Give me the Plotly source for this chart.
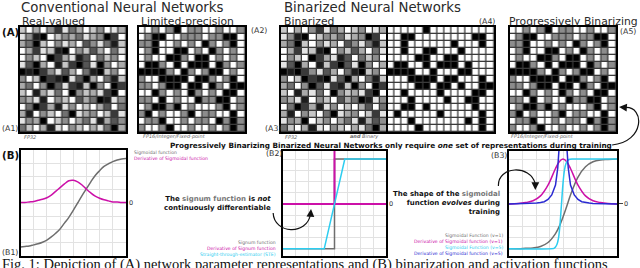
import plotly.graph_objects as go

W, H = 640, 268

# ---------------- data ----------------
# 15x15 parameter grid, shade level 0 (black) .. 9 (white), one string per row
param_rows = [
    "796952846975986",
    "851097564865029",
    "640795869358417",
    "962871095736948",
    "957902681394759",
    "830691720380596",
    "010258369410759",
    "597021083069417",
    "649503821705902",
    "791684905768209",
    "568195793640185",
    "940261859796394",
    "619579408659728",
    "856097596481635",
    "479618957968406",
]
weights = [[int(c) for c in r] for r in param_rows]

# B1 : sigmoidal function and its derivative
b1_x = [-6, -5.5, -5, -4.5, -4, -3.5, -3, -2.5, -2, -1.5, -1, -0.5, 0,
        0.5, 1, 1.5, 2, 2.5, 3, 3.5, 4, 4.5, 5, 5.5, 6]
b1_sigmoid = [-0.83, -0.82, -0.81, -0.79, -0.77, -0.74, -0.70, -0.64, -0.57, -0.49, -0.38, -0.27, -0.14,
              0.0, 0.14, 0.27, 0.40, 0.52, 0.61, 0.69, 0.74, 0.78, 0.81, 0.83, 0.84]
b1_deriv = [0.01, 0.01, 0.02, 0.03, 0.05, 0.07, 0.10, 0.15, 0.22, 0.29, 0.36, 0.42, 0.43,
            0.40, 0.34, 0.26, 0.19, 0.13, 0.09, 0.06, 0.04, 0.02, 0.02, 0.01, 0.01]

# B2 : signum, its derivative, straight-through estimator
b2_sign_x = [-5, 0, 0, 5]
b2_sign_y = [-1, -1, 1, 1]
b2_dsign_x = [-5, 0, 0, 0, 5]
b2_dsign_y = [0, 0, 2, 0, 0]
b2_ste_x = [-5, -1, 1, 5]
b2_ste_y = [-1, -1, 1, 1]

# B3 : sigmoidal functions with v=1 and v=5
b3_x = [-3.6, -3, -2.5, -2, -1.5, -1, -0.5, -0.25, 0, 0.25, 0.5, 1, 1.5, 2, 2.5, 3, 3.6]
b3_sig_v1 = [-1.0, -1.0, -0.99, -0.98, -0.95, -0.86, -0.66, -0.50, -0.29, -0.05, 0.20,
             0.60, 0.83, 0.94, 0.98, 0.99, 1.0]
b3_dsig_v1 = [0.0, 0.01, 0.03, 0.07, 0.18, 0.42, 0.79, 0.94, 1.0, 0.94, 0.79,
              0.42, 0.18, 0.07, 0.03, 0.01, 0.0]
b3_x5 = [-3.6, -0.6, -0.5, -0.4, -0.3, -0.2, -0.1, 0, 0.1, 0.2, 0.3, 0.4, 0.6, 3.6]
b3_sig_v5 = [-1.0, -0.99, -0.96, -0.9, -0.76, -0.46, 0.0, 0.46, 0.76, 0.9, 0.96, 0.99, 1.0, 1.0]
b3_xd5 = [-3.6, -2, -1.75, -1.5, -1.25, -1, -0.75, -0.5, -0.35, -0.25, -0.15, -0.05,
          0.05, 0.15, 0.25, 0.35, 0.5, 0.75, 1, 1.25, 1.5, 1.75, 2, 3.6]
b3_dsig_v5 = [0.0, 0.01, 0.02, 0.03, 0.05, 0.1, 0.2, 0.42, 0.8, 1.3, 2.5, 5,
              5, 2.5, 1.3, 0.8, 0.42, 0.2, 0.1, 0.05, 0.03, 0.02, 0.01, 0.0]

# ---------------- styles ----------------
FONT = "DejaVu Sans"
GRAY = "#6e6e6e"
MAG = "#cc10a8"
CYAN = "#2ccdf0"
BLUE = "#2a2ad2"
GRID = "#e2e2e2"

cs_real = [[0, "#000000"], [1, "#ffffff"]]
cs_quant = [[0, "#000000"], [3.5 / 9, "#000000"], [3.5 / 9, "#8c8c8c"],
            [6.5 / 9, "#8c8c8c"], [6.5 / 9, "#ffffff"], [1, "#ffffff"]]
cs_bin = [[0, "#000000"], [3.5 / 9, "#000000"], [3.5 / 9, "#ffffff"], [1, "#ffffff"]]


def dx(x0, x1):
    return [x0 / W, x1 / W]


def dy(y0, y1):
    return [1 - y1 / H, 1 - y0 / H]


fig = go.Figure()
layout = dict(width=W, height=H, margin=dict(l=0, r=0, t=0, b=0),
              paper_bgcolor="white", plot_bgcolor="rgba(0,0,0,0)",
              showlegend=False, font=dict(family=FONT, color="#222"))
shapes = []
annotations = []

# ---- A grids ----
grids = [(19.5, 126, cs_real), (138.5, 245, cs_quant), (281, 387.5, cs_real),
         (387.5, 494, cs_bin), (509.5, 616, cs_quant)]
for i, (x0, x1, cs) in enumerate(grids, start=1):
    xa, ya = f"x{i}", f"y{i}"
    fig.add_trace(go.Heatmap(z=weights, xaxis=xa, yaxis=ya, colorscale=cs, zmin=0, zmax=9,
                             showscale=False, xgap=1.3, ygap=1.3, hoverinfo="skip"))
    common = dict(showgrid=False, zeroline=False, showticklabels=False, ticks="",
                  showline=True, mirror=True, linecolor="black", linewidth=1.6)
    layout[f"xaxis{i}"] = dict(domain=dx(x0, x1), anchor=ya, range=[-0.5, 14.5], **common)
    layout[f"yaxis{i}"] = dict(domain=dy(27, 132), anchor=xa, range=[14.5, -0.5], **common)
    shapes.append(dict(type="rect", xref=xa, yref=ya, x0=-0.5, x1=14.5, y0=-0.5, y1=14.5,
                       fillcolor="#3a3a3a", line=dict(width=0), layer="below"))

# ---- B line plots ----
def line_axes(i, x0, x1, y0, y1, xr, xdt, yr, zero_tick):
    xa, ya = f"x{i}", f"y{i}"
    layout[f"xaxis{i}"] = dict(domain=dx(x0, x1), anchor=ya, range=xr, tick0=xr[0], dtick=xdt,
                               showgrid=True, gridcolor=GRID, gridwidth=1, zeroline=False,
                               showticklabels=False, ticks="", showline=True, mirror=True,
                               linecolor="black", linewidth=1.6)
    layout[f"yaxis{i}"] = dict(domain=dy(y0, y1), anchor=xa, range=yr, side="right",
                               tickmode="array", tickvals=[0], ticktext=["0"],
                               tickfont=dict(size=6.5, color="#333"),
                               ticks="outside" if zero_tick else "", ticklen=4,
                               tickcolor="#444", showgrid=True, gridcolor=GRID, zeroline=False,
                               minor=dict(tick0=0, dtick=0.25, showgrid=True, gridcolor=GRID,
                                          ticks=""),
                               showline=True, mirror=True, linecolor="black", linewidth=1.6)
    return xa, ya


xa, ya = line_axes(6, 20.5, 126, 150, 256, [-6, 6], 1.5, [-1, 1], False)
fig.add_trace(go.Scatter(x=b1_x, y=b1_sigmoid, xaxis=xa, yaxis=ya, mode="lines",
                         line=dict(color=GRAY, width=1.5, shape="spline"), hoverinfo="skip"))
fig.add_trace(go.Scatter(x=b1_x, y=b1_deriv, xaxis=xa, yaxis=ya, mode="lines",
                         line=dict(color=MAG, width=1.5, shape="spline"), hoverinfo="skip"))

xa, ya = line_axes(7, 283, 386, 151, 256, [-5, 5], 1.25, [-1.16, 1.18], False)
fig.add_trace(go.Scatter(x=b2_sign_x, y=b2_sign_y, xaxis=xa, yaxis=ya, mode="lines",
                         line=dict(color=GRAY, width=1.5), hoverinfo="skip"))
fig.add_trace(go.Scatter(x=b2_dsign_x, y=b2_dsign_y, xaxis=xa, yaxis=ya, mode="lines",
                         line=dict(color=MAG, width=2), hoverinfo="skip"))
fig.add_trace(go.Scatter(x=b2_ste_x, y=b2_ste_y, xaxis=xa, yaxis=ya, mode="lines",
                         line=dict(color=CYAN, width=1.5), hoverinfo="skip"))

xa, ya = line_axes(8, 509, 617, 151, 256, [-3.6, 3.6], 0.9, [-1.16, 1.18], True)
fig.add_trace(go.Scatter(x=b3_x, y=b3_sig_v1, xaxis=xa, yaxis=ya, mode="lines",
                         line=dict(color=GRAY, width=1.5, shape="spline"), hoverinfo="skip"))
fig.add_trace(go.Scatter(x=b3_x, y=b3_dsig_v1, xaxis=xa, yaxis=ya, mode="lines",
                         line=dict(color=MAG, width=1.5, shape="spline"), hoverinfo="skip"))
fig.add_trace(go.Scatter(x=b3_x5, y=b3_sig_v5, xaxis=xa, yaxis=ya, mode="lines",
                         line=dict(color=CYAN, width=1.5, shape="spline", smoothing=0.6),
                         hoverinfo="skip"))
fig.add_trace(go.Scatter(x=b3_xd5, y=b3_dsig_v5, xaxis=xa, yaxis=ya, mode="lines",
                         line=dict(color=BLUE, width=1.5), hoverinfo="skip"))

# ---- overlay axis in pixel units for text and arrows ----
layout["xaxis9"] = dict(domain=[0, 1], range=[-2, W], anchor="y9", visible=False, fixedrange=True)
layout["yaxis9"] = dict(domain=[0, 1], range=[H, 0], anchor="x9", visible=False, fixedrange=True)


def txt(x, y, text, size, color="#222", xanchor="left", align="left", yanchor="middle", family=FONT):
    annotations.append(dict(xref="x9", yref="y9", x=x, y=y, text=text, showarrow=False,
                            xanchor=xanchor, yanchor=yanchor, align=align,
                            font=dict(size=size, color=color, family=family)))


# headings
txt(17, 7.5, "Conventional Neural Networks", 13.3, "#2a2a2a")
txt(280.5, 7.5, "Binarized Neural Networks", 13.3, "#2a2a2a")
txt(18, 21.5, "Real-valued", 10.8, "#2a2a2a")
txt(137.5, 21.5, "Limited-precision", 10.8, "#2a2a2a")
txt(280.5, 21.5, "Binarized", 10.8, "#2a2a2a")
txt(507, 21.5, "Progressively Binarizing", 10.8, "#2a2a2a")

# panel labels
txt(-2, 32.5, "<b>(A)</b>", 10.2, "#111")
txt(-2, 128.5, "(A1)", 7.8, "#333")
txt(248, 30, "(A2)", 7.8, "#333")
txt(262, 128.5, "(A3)", 7.8, "#333")
txt(476, 21.5, "(A4)", 7.8, "#333")
txt(618, 31, "(A5)", 7.8, "#333")
txt(-2, 155.5, "<b>(B)</b>", 10.2, "#111")
txt(-2, 252.5, "(B1)", 7.8, "#333")
txt(263, 153.5, "(B2)", 7.8, "#333")
txt(489, 155.5, "(B3)", 7.8, "#333")

# representation tags
txt(20, 136.5, "<i>FP32</i>", 5, "#666")
txt(139, 136.5, "<i>FP16/Integer/Fixed-point</i>", 5, "#666")
txt(282, 136.5, "<i>FP32</i>", 5, "#666")
txt(347, 136.5, "<b><i>and</i></b><i> Binary</i>", 5, "#666")
txt(509, 136.5, "<i>FP16/Integer/Fixed-point</i>", 5, "#666")

# main statement
txt(614, 145.5, "<b>Progressively Binarizing Binarized Neural Networks only require <i>one</i> "
    "set of representations during training</b>", 7.3, "#111", xanchor="right")

# B1 legend
txt(130, 152.5, "Sigmoidal function", 4.6, GRAY)
txt(130, 158, "Derivative of Sigmoidal function", 4.6, MAG)

# B2 notes
txt(272, 203, "<b>The <span style='color:#777'>signum function</span> is <i>not</i><br>"
    "continuously differentiable</b>", 7, "#111", xanchor="right", align="right")
txt(277, 242.7, "Signum function", 4.6, GRAY, xanchor="right")
txt(277, 248.3, "Derivative of Signum function", 4.6, MAG, xanchor="right")
txt(277, 254, "Straight-through-estimator (STE)", 4.6, CYAN, xanchor="right")

# B3 notes
txt(502, 203, "<b>The shape of the <span style='color:#777'>sigmoidal</span><br>"
    "function <i>evolves</i> during<br>training</b>", 7, "#111", xanchor="right", align="right")
txt(505, 235.7, "Sigmoidal Function (v=1)", 4.6, GRAY, xanchor="right")
txt(505, 241.7, "Derivative of Sigmoidal function (v=1)", 4.6, MAG, xanchor="right")
txt(505, 247.3, "Sigmoidal Function (v=5)", 4.6, CYAN, xanchor="right")
txt(505, 253.3, "Derivative of Sigmoidal function (v=5)", 4.6, BLUE, xanchor="right")

# caption (cut by the frame, as in the source)
txt(-2, 264.5, "Fig. 1: Depiction of (A) network parameter representations and (B) binarization "
    "and activation functions", 14.5, "#111", family="Liberation Serif")

# curved arrows
for p in ["M 272 213 C 273 234, 306 236, 309.5 214",
          "M 498 186 C 497 166, 530 164, 535 184",
          "M 612 145 C 645 142, 645 106, 625 107.5"]:
    shapes.append(dict(type="path", xref="x9", yref="y9", path=p,
                       line=dict(color="#111", width=1.2), layer="above"))
for (hx, hy, ax, ay) in [(310, 209, -0.5, 6), (535, 190, 0, -7), (619, 107, 7, 0.5)]:
    annotations.append(dict(xref="x9", yref="y9", x=hx, y=hy, ax=ax, ay=ay, text="",
                            showarrow=True, arrowhead=2, arrowsize=1.3, arrowwidth=1.2,
                            arrowcolor="#111", standoff=0))

layout["shapes"] = shapes
layout["annotations"] = annotations
fig.update_layout(**layout)
fig.write_html("out.html", config={"displayModeBar": False},
               post_script="document.body.style.margin='0';")
